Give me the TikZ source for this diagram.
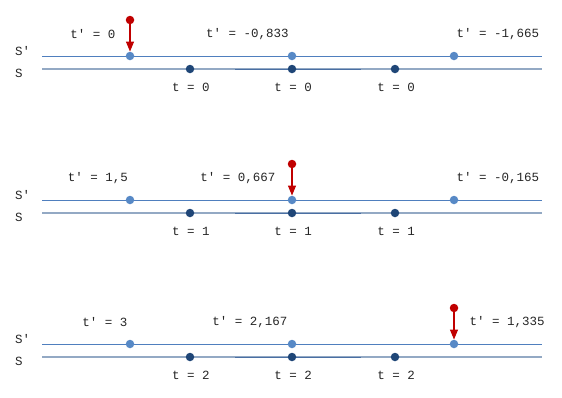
\documentclass[tikz,border=0pt]{standalone}
\usepackage{fontspec}
\setmonofont{Liberation Mono}
\usetikzlibrary{arrows.meta}
\definecolor{primeline}{HTML}{4F7FBE}
\definecolor{primedot}{HTML}{5789C6}
\definecolor{restline}{HTML}{93A9C4}
\definecolor{restmid}{HTML}{4A6FA3}
\definecolor{restdot}{HTML}{1F4677}
\definecolor{eventred}{HTML}{C00000}
\tikzset{
    txt/.style={font=\ttfamily\fontsize{12.5}{12.5}\selectfont,inner sep=0pt,text=black!85},
    primedotn/.style={circle,fill=primedot,inner sep=0pt,minimum size=8.5pt},
    restdotn/.style={circle,fill=restdot,inner sep=0pt,minimum size=8.5pt},
    eventn/.style={circle,fill=eventred,inner sep=0pt,minimum size=8.5pt},
}
\begin{document}
\begin{tikzpicture}[x=1pt,y=-1pt]
    \useasboundingbox (0,0) rectangle (562,397);
    % Frames S' and S, three moments
    \foreach \g in {0,1,2} {
        \pgfmathsetmacro{\yo}{144*\g}
        % Axis ends
        \coordinate (pa\g) at (42,56+\yo);
        \coordinate (pb\g) at (542,56+\yo);
        \coordinate (ra\g) at (42,69+\yo);
        \coordinate (rb\g) at (542,69+\yo);
        \coordinate (rm\g) at (235,69+\yo);
        \coordinate (rn\g) at (361,69+\yo);
        \draw[primeline,line width=1pt] (pa\g) -- (pb\g);
        \draw[restline,line width=1.8pt] (ra\g) -- (rb\g);
        \draw[restmid,line width=0.9pt] (rm\g) -- (rn\g);
        % Frame names
        \node[txt,anchor=west] (nsp\g) at (15,51+\yo) {S'};
        \node[txt,anchor=west] (ns\g) at (15,73+\yo) {S};
        % Clock beads
        \foreach \x [count=\i] in {130,292,454}
            \node[primedotn] (sp\g-\i) at (\x,56+\yo) {};
        \foreach \x [count=\i] in {190,292,395} {
            \node[restdotn] (s\g-\i) at (\x,69+\yo) {};
            \node[txt] (lt\g-\i) at (\x+1,87.5+\yo) {t = \g};
        }
    }
    % Primed clock readings
    \foreach \g/\xa/\ta/\xb/\tb/\xc/\tc in {0/93/{0}/247.5/{-0,833}/498/{-1,665},
        1/98/{1,5}/238/{0,667}/498/{-0,165},2/105/{3}/250/{2,167}/507/{1,335}}
    {
        \pgfmathsetmacro{\yo}{144*\g}
        \node[txt] (lp\g-1) at (\xa,34.5+\yo) {t' = \ta};
        \node[txt] (lp\g-2) at (\xb,34.5+\yo) {t' = \tb};
        \node[txt] (lp\g-3) at (\xc,34.5+\yo) {t' = \tc};
    }
    % Events
    \foreach \g/\i/\x in {0/1/130,1/2/292,2/3/454} {
        \pgfmathsetmacro{\yo}{144*\g}
        \node[eventn] (ev\g) at (\x,20+\yo) {};
        \draw[eventred,line width=1.1pt,-{Triangle[length=10pt,width=8pt]}]
            (ev\g) -- (sp\g-\i.north);
    }
\end{tikzpicture}
\end{document}
